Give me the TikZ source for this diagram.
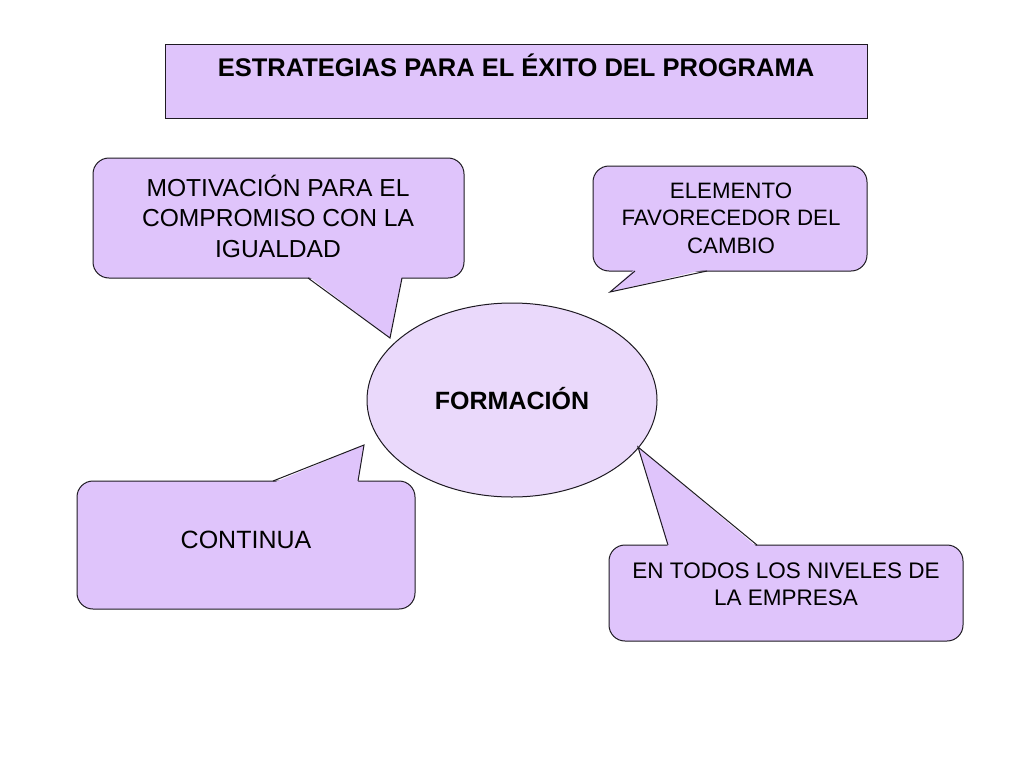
\documentclass[tikz,border=0pt]{standalone}
\usepackage{fontspec}
\setmainfont{Liberation Sans}
\usetikzlibrary{shapes.geometric}
\definecolor{callfill}{HTML}{DFC4FB}
\definecolor{ellfill}{HTML}{EAD9FB}
\definecolor{edge}{HTML}{1E1A22}
\tikzset{
  callbox/.style={draw=edge, line width=1pt, fill=callfill, rounded corners=16pt, inner sep=0pt},
  titlebox/.style={draw=edge, line width=1pt, fill=callfill, inner sep=0pt},
  pointerfill/.style={fill=callfill},
  pointeredge/.style={draw=edge, line width=1pt, line join=miter},
  txt/.style={align=center, text=black, inner sep=0pt}
}
\begin{document}
\begin{tikzpicture}[x=1pt, y=-1pt]
\useasboundingbox[fill=white] (0,0) rectangle (1024,768);

% title
\draw[titlebox] (165,45) rectangle (867,118);
\node[txt, anchor=base, font=\bfseries\fontsize{25.5}{30}\selectfont] (title) at (516,77) {ESTRATEGIAS PARA EL ÉXITO DEL PROGRAMA};

% callout boxes
\draw[callbox] (93,158) rectangle (464,278);
\draw[callbox] (593,166) rectangle (867,271);
\draw[callbox] (77,481) rectangle (415,609);
\draw[callbox] (609,545) rectangle (963,641);

% ellipse
\node[ellipse, draw=edge, line width=1pt, fill=ellfill, minimum width=290pt, minimum height=194pt, inner sep=0pt] (form) at (512,400) {};
\node[txt, font=\bfseries\fontsize{25}{30}\selectfont] (formt) at (512,399) {FORMACIÓN};

% pointers
\coordinate (t1) at (390,338);
\coordinate (t2) at (610,292);
\coordinate (t3) at (364,445);
\coordinate (t4) at (638,447);

\fill[pointerfill] (308,276) -- (t1) -- (402,276) -- cycle;
\draw[pointeredge] (308,278) -- (t1) -- (402,278);

\fill[pointerfill] (635,269) -- (t2) -- (707,269) -- cycle;
\draw[pointeredge] (635,271) -- (t2) -- (707,271);

\fill[pointerfill] (273,483) -- (t3) -- (358,483) -- cycle;
\draw[pointeredge] (273,481) -- (t3) -- (358,481);

\fill[pointerfill] (668,547) -- (t4) -- (757,547) -- cycle;
\draw[pointeredge] (668,545) -- (t4) -- (757,545);

% texts
\node[txt, font=\fontsize{24.6}{30.5}\selectfont] (c1) at (278,216) {MOTIVACIÓN PARA EL\\COMPROMISO CON LA\\IGUALDAD};
\node[txt, font=\fontsize{22.3}{27.5}\selectfont] (c2) at (731,218) {ELEMENTO\\FAVORECEDOR DEL\\CAMBIO};
\node[txt, font=\fontsize{25}{30}\selectfont] (c3) at (246,540) {CONTINUA};
\node[txt, font=\fontsize{22.5}{27}\selectfont] (c4) at (786,584) {EN TODOS LOS NIVELES DE\\LA EMPRESA};
\end{tikzpicture}
\end{document}
